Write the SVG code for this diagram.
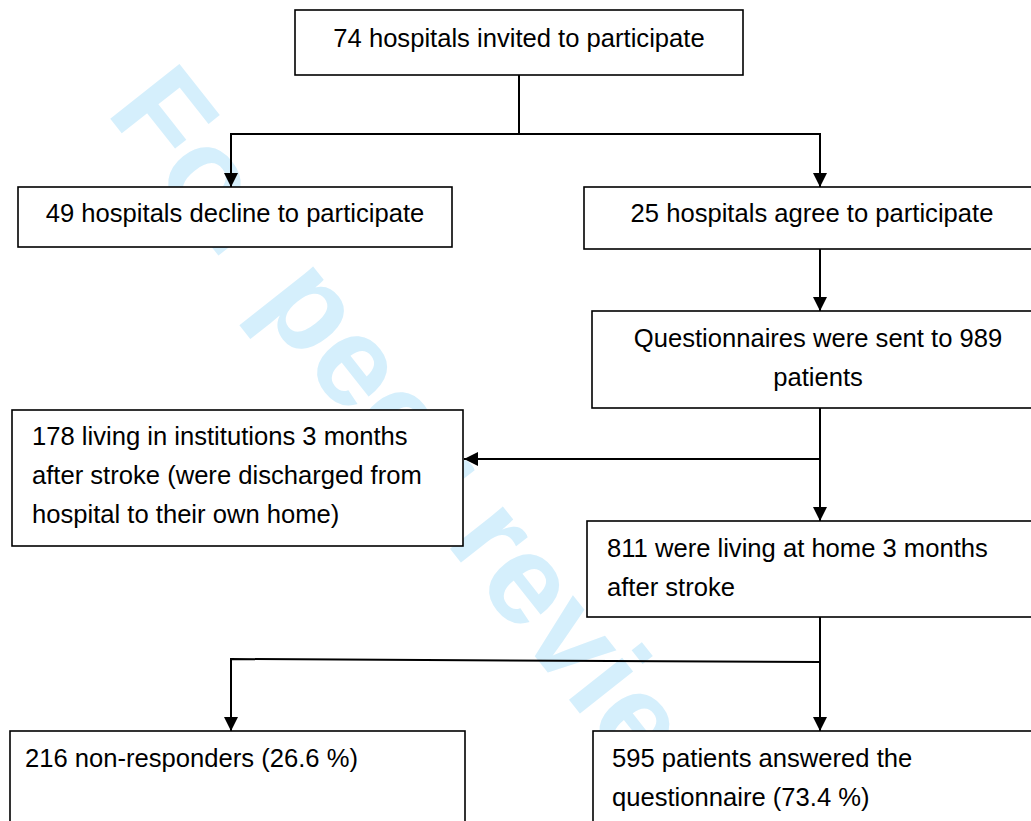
<svg xmlns="http://www.w3.org/2000/svg" width="1031" height="821" viewBox="0 0 1031 821">
<defs>
<style>
.box{fill:#fff;stroke:#000;stroke-width:1.6}
.t{font-family:"Liberation Sans",Arial,sans-serif;font-size:25.6px;fill:#000}
.c{text-anchor:middle}
.ln{fill:none;stroke:#000;stroke-width:2}
.wm{font-family:"Liberation Sans",Arial,sans-serif;font-weight:bold;font-size:128px;fill:#d5effc}
</style>
<marker id="ah" markerUnits="userSpaceOnUse" markerWidth="14" markerHeight="14" refX="14" refY="7" orient="auto" viewBox="0 0 14 14">
<path d="M0,0 L14,7 L0,14 z" fill="#000"/>
</marker>
</defs>
<rect width="1031" height="821" fill="#fff"/>
<text class="wm" transform="translate(105,112) rotate(51.7)">For peer revie</text>
<g id="connectors">
<path class="ln" d="M519,75 V134 H231 V187" marker-end="url(#ah)"/>
<path class="ln" d="M519,134 H820 V187" marker-end="url(#ah)"/>
<path class="ln" d="M820,249 V311" marker-end="url(#ah)"/>
<path class="ln" d="M820,408 V521" marker-end="url(#ah)"/>
<path class="ln" d="M820,459 H464" marker-end="url(#ah)"/>
<path class="ln" d="M820,617 V731" marker-end="url(#ah)"/>
<path class="ln" d="M820,662 L231,659 V731" marker-end="url(#ah)"/>
</g>
<g id="n1"><rect class="box" x="295" y="10" width="448" height="65"/><text class="t c" x="519" y="47">74 hospitals invited to participate</text></g>
<g id="n2"><rect class="box" x="18" y="187" width="434" height="60"/><text class="t c" x="235" y="222">49 hospitals decline to participate</text></g>
<g id="n3"><rect class="box" x="584" y="187" width="460" height="62"/><text class="t c" x="812" y="222">25 hospitals agree to participate</text></g>
<g id="n4"><rect class="box" x="592" y="311" width="452" height="97"/><text class="t c" x="818" y="347">Questionnaires were sent to 989</text><text class="t c" x="818" y="386">patients</text></g>
<g id="n5"><rect class="box" x="12" y="410" width="451" height="136"/><text class="t" x="32" y="445">178 living in institutions 3 months</text><text class="t" x="32" y="484">after stroke (were discharged from</text><text class="t" x="32" y="523">hospital to their own home)</text></g>
<g id="n6"><rect class="box" x="587" y="521" width="457" height="96"/><text class="t" x="607" y="557">811 were living at home 3 months</text><text class="t" x="607" y="596">after stroke</text></g>
<g id="n7"><rect class="box" x="10" y="731" width="455" height="100"/><text class="t" x="25" y="767">216 non-responders (26.6 %)</text></g>
<g id="n8"><rect class="box" x="593" y="731" width="451" height="100"/><text class="t" x="612" y="767">595 patients answered the</text><text class="t" x="612" y="806">questionnaire (73.4 %)</text></g>
</svg>
